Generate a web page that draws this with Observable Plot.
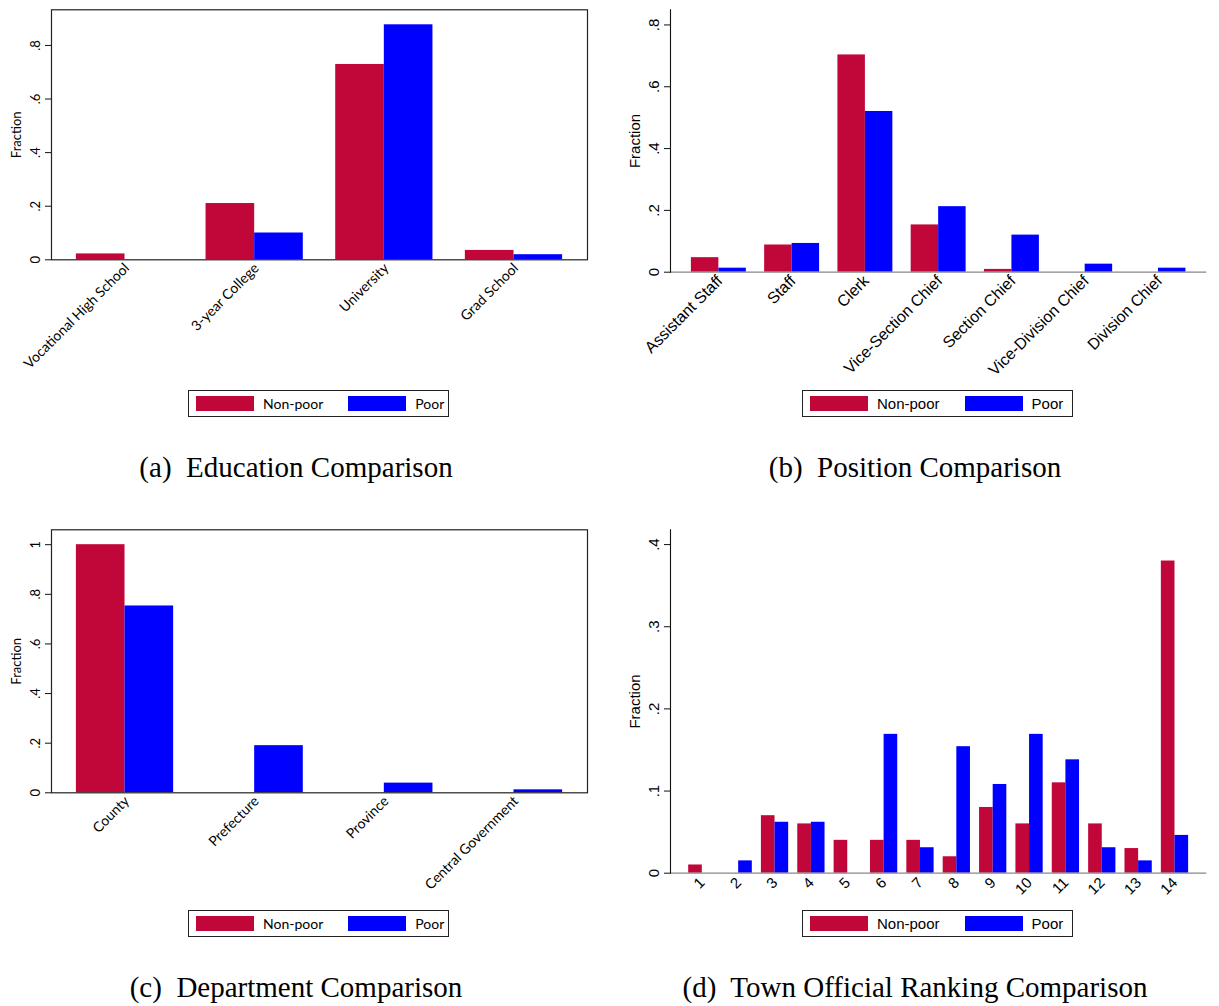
<!DOCTYPE html>
<html>
<head>
<meta charset="utf-8">
<script src="https://cdn.jsdelivr.net/npm/d3@7"></script>
<script src="https://cdn.jsdelivr.net/npm/@observablehq/plot@0.6"></script>
<style>
  html, body { margin: 0; padding: 0; background: #fff; }
  #root { position: relative; width: 1219px; height: 1006px; overflow: hidden; background: #fff; }
  .panel { position: absolute; }
  .panel svg { overflow: visible; }
  .legend { position: absolute; display: flex; align-items: center; border: 1px solid #222; box-sizing: border-box; background: #fff; padding-left: 7px; color: #000; }
  .legend .sw { display: inline-block; width: 58px; height: 15px; }
  .legend .lab { margin-left: 9px; white-space: nowrap; }
  .legend .gap { width: 25px; }
  .cap { position: absolute; font-family: "Liberation Serif", serif; font-size: 29px; white-space: pre; transform: translateX(-50%); color: #000; line-height: 1; }
</style>
</head>
<body>
<div id="root"></div>
<script>
// ---------- data ----------
const series = ["Non-poor", "Poor"];
const seriesColors = ["#c1073a", "#0000ff"];

const educationCats = ["Vocational High School", "3-year College", "University", "Grad School"];
const educationNonPoor = [0.022, 0.21, 0.729, 0.035];
const educationPoor = [0, 0.10, 0.877, 0.019];

const positionCats = ["Assistant Staff", "Staff", "Clerk", "Vice-Section Chief", "Section Chief", "Vice-Division Chief", "Division Chief"];
const positionNonPoor = [0.047, 0.088, 0.703, 0.153, 0.009, 0, 0];
const positionPoor = [0.013, 0.093, 0.520, 0.212, 0.120, 0.026, 0.013];

const departmentCats = ["County", "Prefecture", "Province", "Central Government"];
const departmentNonPoor = [1.0, 0, 0, 0];
const departmentPoor = [0.753, 0.19, 0.039, 0.012];

const rankingCats = ["1", "2", "3", "4", "5", "6", "7", "8", "9", "10", "11", "12", "13", "14"];
const rankingNonPoor = [0.01, 0, 0.07, 0.06, 0.04, 0.04, 0.04, 0.02, 0.08, 0.06, 0.11, 0.06, 0.03, 0.38];
const rankingPoor = [0, 0.015, 0.062, 0.062, 0, 0.169, 0.031, 0.154, 0.108, 0.169, 0.138, 0.031, 0.015, 0.046];

const ticksEducation = [0, 0.2, 0.4, 0.6, 0.8];
const ticksPosition = [0, 0.2, 0.4, 0.6, 0.8];
const ticksDepartment = [0, 0.2, 0.4, 0.6, 0.8, 1];
const ticksRanking = [0, 0.1, 0.2, 0.3, 0.4];

const yLabel = "Fraction";
const captions = ["(a)  Education Comparison", "(b)  Position Comparison", "(c)  Department Comparison", "(d)  Town Official Ranking Comparison"];

// ---------- helpers ----------
const fmt = d => d === 0 ? "0" : d === 1 ? "1" : d3.format(".1f")(d).replace(/^0/, "");
const root = document.getElementById("root");

function makePanel(cfg) {
  const rows = [];
  cfg.cats.forEach((c, i) => {
    rows.push({i, s: series[0], k: 0, v: cfg.nonPoor[i]});
    rows.push({i, s: series[1], k: 1, v: cfg.poor[i]});
  });
  const bw = 0.375;
  const marks = [];
  marks.push(Plot.rect(rows.filter(d => d.v > 0), {
    x1: d => d.i + (d.k - 1) * bw,
    x2: d => d.i + d.k * bw,
    y1: 0,
    y2: "v",
    fill: "s"
  }));
  if (cfg.boxed) {
    marks.push(Plot.frame({stroke: "#222", strokeWidth: 1.2}));
  } else {
    marks.push(Plot.ruleY([0], {stroke: "#888", strokeWidth: 1.3}));
    marks.push(Plot.frame({anchor: "left", stroke: "#111", strokeWidth: 1.1}));
  }
  marks.push(Plot.axisY({ticks: cfg.yticks, tickSize: 6, tickFormat: () => "", stroke: "#111", label: null}));
  marks.push(Plot.text(cfg.yticks, {y: d => d, text: d => fmt(d), frameAnchor: "left", textAnchor: "middle", lineAnchor: "middle", dx: -cfg.tickDx, rotate: -90, fontSize: cfg.tickFont, fill: "#000"}));
  marks.push(Plot.text([yLabel], {frameAnchor: "left", textAnchor: "middle", lineAnchor: "middle", dx: -35, rotate: -90, fontSize: cfg.labelFont, fill: "#000"}));
  marks.push(Plot.text(cfg.cats, {x: (d, i) => i, text: d => d, frameAnchor: "bottom", rotate: -45, textAnchor: "end", lineAnchor: "middle", dx: cfg.xdx, dy: cfg.xdy, fontSize: cfg.xFont, fill: "#000"}));

  const svg = Plot.plot({
    width: cfg.width,
    height: cfg.height,
    marginLeft: cfg.ml,
    marginRight: cfg.mr,
    marginTop: cfg.mt,
    marginBottom: cfg.mb,
    x: {domain: cfg.xdomain, axis: null},
    y: {domain: cfg.ydomain, axis: null},
    color: {domain: series, range: seriesColors},
    style: {fontFamily: cfg.font, fontSize: cfg.tickFont + "px", color: "#000", background: "transparent", overflow: "visible"},
    marks
  });
  const div = document.createElement("div");
  div.className = "panel";
  div.style.left = cfg.left + "px";
  div.style.top = cfg.top + "px";
  div.appendChild(svg);
  root.appendChild(div);

  // legend
  const lg = document.createElement("div");
  lg.className = "legend";
  lg.style.left = cfg.legend[0] + "px";
  lg.style.top = cfg.legend[1] + "px";
  lg.style.width = cfg.legend[2] + "px";
  lg.style.height = "27px";
  lg.style.fontFamily = cfg.font;
  lg.style.fontSize = cfg.legendFont + "px";
  series.forEach((s, j) => {
    if (j > 0) { const g = document.createElement("span"); g.className = "gap"; lg.appendChild(g); }
    const sw = document.createElement("span"); sw.className = "sw"; sw.style.background = seriesColors[j]; lg.appendChild(sw);
    const lab = document.createElement("span"); lab.className = "lab"; lab.textContent = s; lg.appendChild(lab);
  });
  root.appendChild(lg);

  // caption
  const cap = document.createElement("div");
  cap.className = "cap";
  cap.textContent = cfg.caption;
  cap.style.left = cfg.capX + "px";
  cap.style.top = cfg.capY + "px";
  root.appendChild(cap);
}

const fontA = "Lato, 'Noto Sans', sans-serif";
const fontB = "'Liberation Sans', Arial, sans-serif";

makePanel({
  cats: educationCats, nonPoor: educationNonPoor, poor: educationPoor, yticks: ticksEducation,
  left: 0, top: 0, width: 610, height: 380, ml: 51, mr: 23, mt: 9.3, mb: 120.7,
  xdomain: [-0.567, 3.567], ydomain: [0, 0.933], boxed: true,
  font: fontA, tickFont: 13, labelFont: 13, xFont: 14, legendFont: 14, tickDx: 16, xdx: 2, xdy: 6,
  legend: [188, 390, 261], caption: captions[0], capX: 296, capY: 453
});
makePanel({
  cats: positionCats, nonPoor: positionNonPoor, poor: positionPoor, yticks: ticksPosition,
  left: 610, top: 0, width: 609, height: 380, ml: 60, mr: 12.7, mt: 9.3, mb: 108.3,
  xdomain: [-0.66, 6.66], ydomain: [0, 0.849], boxed: false,
  font: fontB, tickFont: 15, labelFont: 15, xFont: 16, legendFont: 15, tickDx: 16, xdx: 1, xdy: 6,
  legend: [802, 390, 271], caption: captions[1], capX: 915, capY: 453
});
makePanel({
  cats: departmentCats, nonPoor: departmentNonPoor, poor: departmentPoor, yticks: ticksDepartment,
  left: 0, top: 520, width: 610, height: 380, ml: 51, mr: 23, mt: 9.3, mb: 107.7,
  xdomain: [-0.567, 3.567], ydomain: [0, 1.06], boxed: true,
  font: fontA, tickFont: 13, labelFont: 13, xFont: 14, legendFont: 14, tickDx: 16, xdx: 2, xdy: 6,
  legend: [188, 910, 261], caption: captions[2], capX: 296, capY: 973
});
makePanel({
  cats: rankingCats, nonPoor: rankingNonPoor, poor: rankingPoor, yticks: ticksRanking,
  left: 610, top: 520, width: 609, height: 380, ml: 60, mr: 12.7, mt: 9.3, mb: 27.3,
  xdomain: [-0.875, 13.875], ydomain: [0, 0.418], boxed: false,
  font: fontB, tickFont: 15, labelFont: 15, xFont: 15, legendFont: 15, tickDx: 16, xdx: 0, xdy: 7,
  legend: [802, 910, 271], caption: captions[3], capX: 915, capY: 973
});
</script>
</body>
</html>
